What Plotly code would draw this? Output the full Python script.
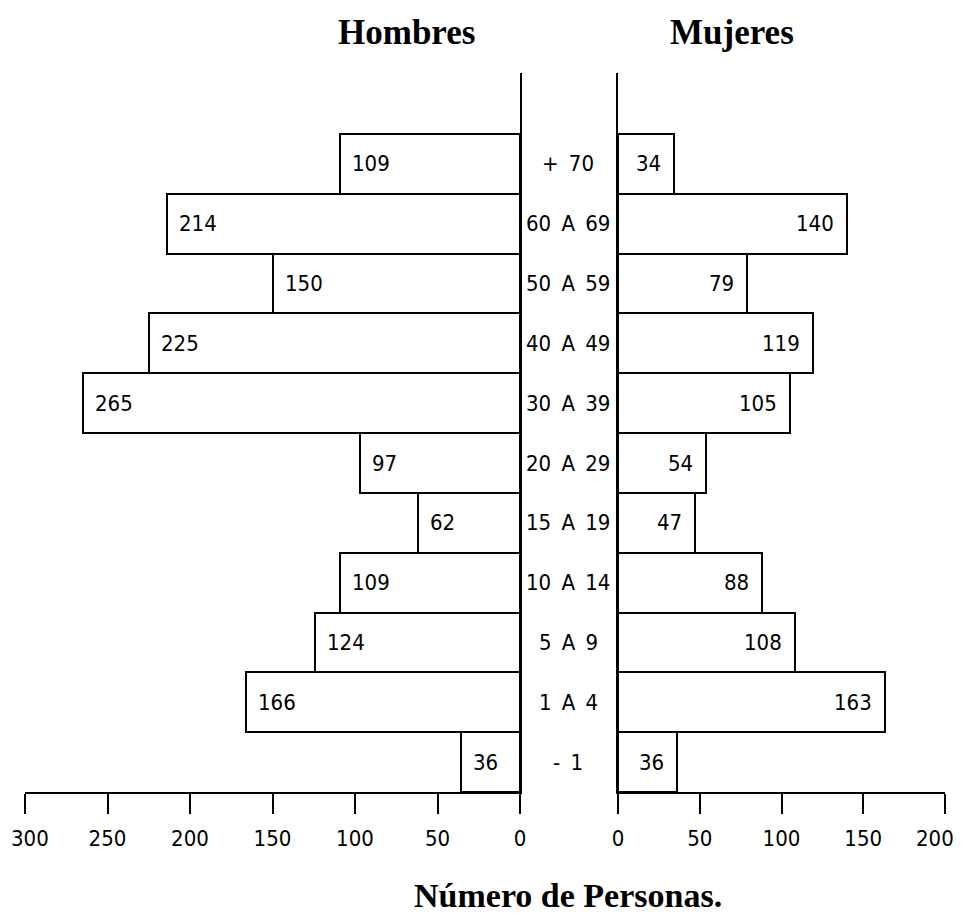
import plotly.graph_objects as go

# Data (bottom to top)
age_groups = ["- 1", "1 A 4", "5 A 9", "10 A 14", "15 A 19", "20 A 29",
              "30 A 39", "40 A 49", "50 A 59", "60 A 69", "+ 70"]
hombres = [36, 166, 124, 109, 62, 97, 265, 225, 150, 214, 109]
mujeres = [36, 163, 108, 88, 47, 54, 105, 119, 79, 140, 34]
left_ticks = [0, 50, 100, 150, 200, 250, 300]
right_ticks = [0, 50, 100, 150, 200]

NARROW = "Liberation Sans Narrow, DejaVu Sans Condensed, Arial Narrow, sans-serif"
SERIF = "Liberation Serif, Times New Roman, serif"

# page body has an 8px margin: work in reference pixels and subtract it
OFF = 8
W, H = 965 - 2 * OFF, 923 - 2 * OFF
PLOT_L, PLOT_R, PLOT_T, PLOT_B = 25 - OFF, 945 - OFF, 73 - OFF, 792 - OFF
ML, MR, MT, MB = PLOT_L, W - PLOT_R, PLOT_T, H - PLOT_B
PW = W - ML - MR
PH = H - MT - MB


def px(pix):
    return (pix - OFF - ML) / PW


def py(pix):
    return (H - MB - (pix - OFF)) / PH


left_dom = [0, px(520)]
right_dom = [px(618), 1]

fig = go.Figure()
bar_style = dict(orientation="h", marker=dict(color="white", line=dict(color="black", width=2)),
                 hoverinfo="x+y", showlegend=False)
fig.add_trace(go.Bar(y=age_groups, x=hombres, xaxis="x", yaxis="y", **bar_style))
fig.add_trace(go.Bar(y=age_groups, x=mujeres, xaxis="x2", yaxis="y2", **bar_style))

tickfont = dict(family=NARROW, size=22, color="black")
xcommon = dict(showline=True, linecolor="black", linewidth=2, ticks="outside", ticklen=20,
               tickwidth=2, tickcolor="black", showgrid=False, zeroline=False,
               tickfont=tickfont, fixedrange=True, automargin=False, ticklabelstandoff=6)
ycommon = dict(type="category", categoryorder="array", categoryarray=age_groups,
               range=[-0.5, 11.52], showline=True, linecolor="black", linewidth=2,
               ticks="", showticklabels=False, showgrid=False, zeroline=False,
               automargin=False, fixedrange=True)

# edge tick labels are drawn as annotations so they stay inside the page
left_text = [str(v) for v in left_ticks[:-1]] + [""]
right_text = [str(v) for v in right_ticks[:-1]] + [""]

fig.update_layout(
    width=W, height=H,
    margin=dict(l=ML, r=MR, t=MT, b=MB, autoexpand=False),
    paper_bgcolor="white", plot_bgcolor="white",
    bargap=0,
    xaxis=dict(domain=left_dom, range=[300, 0], tickvals=left_ticks,
               ticktext=left_text, anchor="y", **xcommon),
    xaxis2=dict(domain=right_dom, range=[0, 200], tickvals=right_ticks,
                ticktext=right_text, anchor="y2", **xcommon),
    yaxis=dict(anchor="x", side="right", **ycommon),
    yaxis2=dict(anchor="x2", side="left", **ycommon),
)

ann = []
lab_font = dict(family=NARROW, size=22, color="black")
ann.append(dict(x=left_ticks[-1], y=py(838), xref="x", yref="paper", text=str(left_ticks[-1]),
                showarrow=False, xanchor="left", yanchor="middle", xshift=-16, font=tickfont))
ann.append(dict(x=right_ticks[-1], y=py(838), xref="x2", yref="paper", text=str(right_ticks[-1]),
                showarrow=False, xanchor="right", yanchor="middle", xshift=11, font=tickfont))

for g, v in zip(age_groups, hombres):
    ann.append(dict(x=v, y=g, xref="x", yref="y", text=str(v), showarrow=False,
                    xanchor="left", yanchor="middle", xshift=10, font=lab_font))
for g, v in zip(age_groups, mujeres):
    ann.append(dict(x=v, y=g, xref="x2", yref="y2", text=str(v), showarrow=False,
                    xanchor="right", yanchor="middle", xshift=-11, font=lab_font))

center_x = px(568)
for g in age_groups:
    ann.append(dict(x=center_x, y=g, xref="paper", yref="y", showarrow=False,
                    text=g.replace(" ", "\u00a0\u2009"), xanchor="center", yanchor="middle",
                    font=lab_font))

title_font = dict(family=SERIF, size=35, color="black", weight="bold")
ann.append(dict(x=px(406), y=py(33), xref="paper", yref="paper", text="Hombres", showarrow=False,
                xanchor="center", yanchor="middle", font=title_font))
ann.append(dict(x=px(732), y=py(33), xref="paper", yref="paper", text="Mujeres", showarrow=False,
                xanchor="center", yanchor="middle", font=title_font))
ann.append(dict(x=px(568), y=py(895), xref="paper", yref="paper", text="Número de Personas.",
                showarrow=False, xanchor="center", yanchor="middle",
                font=dict(family=SERIF, size=34, color="black", weight="bold")))
fig.update_layout(annotations=ann)

fig.write_html("out.html")
